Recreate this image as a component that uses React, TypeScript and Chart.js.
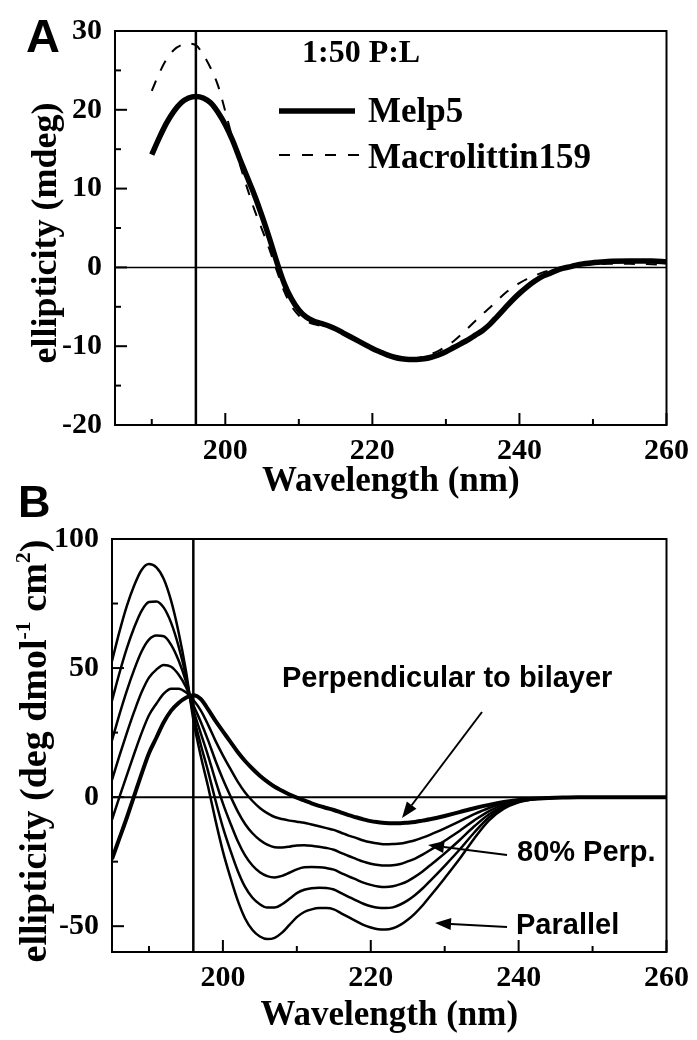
import React, { useEffect, useRef } from "react";
import { Chart, registerables } from "chart.js";
Chart.register(...registerables);

const SERIF = '"Liberation Serif", "Times New Roman", serif';
const SANS = '"Liberation Sans", Arial, sans-serif';

// ---------- Panel A data ----------
const WL_A = [190,191,192,193,194,195,196,197,198,199,200,201,202,203,204,205,206,207,208,209,210,211,212,213,214,215,216,217,218,219,220,221,222,223,224,225,226,227,228,229,230,231,232,233,234,235,236,237,238,239,240,241,242,243,244,245,246,247,248,249,250,252,255,258,260];
const MELP5 = [14.3,16.4,18.3,19.8,20.9,21.5,21.7,21.5,20.9,19.7,18.1,16.1,13.7,11.4,9.1,6.5,3.7,0.7,-2.0,-4.0,-5.4,-6.3,-6.8,-7.1,-7.4,-7.8,-8.3,-8.8,-9.3,-9.8,-10.3,-10.7,-11.1,-11.4,-11.6,-11.7,-11.7,-11.6,-11.4,-11.1,-10.7,-10.2,-9.7,-9.2,-8.6,-8.0,-7.2,-6.2,-5.2,-4.2,-3.3,-2.5,-1.8,-1.2,-0.8,-0.4,-0.1,0.1,0.35,0.5,0.6,0.75,0.8,0.8,0.7];
const MACROLITTIN159 = [22.4,24.6,26.4,27.6,28.2,28.4,28.2,27.0,25.3,23.1,19.8,16.3,13.0,10.0,7.2,4.8,2.3,-0.4,-3.0,-4.9,-6.1,-6.8,-7.2,-7.4,-7.6,-7.9,-8.3,-8.8,-9.3,-9.8,-10.3,-10.7,-11.1,-11.4,-11.6,-11.6,-11.5,-11.3,-11.0,-10.6,-10.0,-9.4,-8.6,-7.7,-6.8,-5.9,-5.1,-4.2,-3.3,-2.6,-2.0,-1.5,-1.1,-0.7,-0.4,-0.15,0.05,0.2,0.3,0.35,0.4,0.45,0.45,0.4,0.3];
const A_X_TICKS = [200, 220, 240, 260];
const A_X_MINOR = [190, 210, 230, 250];
const A_Y_TICKS = [-20, -10, 0, 10, 20, 30];
const A_Y_MINOR = [-15, -5, 5, 15, 25];
const A_NAMES = ["Melp5", "Macrolittin159"];
const A_NOTE = "1:50 P:L";

// ---------- Panel B data ----------
const WL_B = [185,186,187,188,189,190,191,192,193,194,195,196,197,198,199,200,201,202,203,204,205,206,207,208,209,210,211,212,213,214,215,216,217,218,219,220,221,222,223,224,225,226,227,228,229,230,232,234,236,238,240,242,244,246,248,250,255,260];
const PARALLEL = [52.7,64,74,82,88,90.3,89,84.5,76,64,49,30,16,4,-9,-21,-31,-40,-47,-51.5,-54,-55,-54.5,-52.5,-49.5,-46.5,-44.5,-43.5,-43,-43,-43.5,-45,-46.5,-48,-49.5,-50.5,-51.2,-51.3,-50.8,-49.5,-47.5,-45,-42,-38.5,-35,-31.4,-24,-16,-9,-4.5,-2,-0.8,-0.3,-0.1,0,0,0,0];
const PERP_20 = [37.4,48.0,57.6,65.7,72.2,75.6,75.8,73.4,67.5,58.5,46.9,31.9,20.4,10.0,-1.3,-11.7,-20.5,-28.5,-34.8,-39.0,-41.5,-42.8,-42.8,-41.5,-39.4,-37.2,-35.9,-35.3,-35.1,-35.2,-35.8,-37.2,-38.6,-40.0,-41.3,-42.3,-42.9,-43.0,-42.7,-41.6,-40.0,-37.9,-35.4,-32.5,-29.6,-26.6,-20.4,-13.7,-7.8,-4.0,-1.8,-0.76,-0.3,-0.1,0,0,0,0];
const PERP_40 = [22.0,32.0,41.2,49.4,56.4,61.0,62.6,62.3,59.0,53.0,44.8,33.8,24.8,16.0,6.4,-2.4,-10.0,-17.0,-22.6,-26.5,-29.1,-30.6,-31.1,-30.5,-29.3,-28.0,-27.2,-27.1,-27.2,-27.5,-28.1,-29.4,-30.7,-31.9,-33.1,-34.0,-34.6,-34.8,-34.5,-33.7,-32.5,-30.8,-28.8,-26.5,-24.2,-21.8,-16.7,-11.3,-6.6,-3.5,-1.6,-0.72,-0.3,-0.1,0,0,0,0];
const PERP_60 = [6.7,16.0,24.8,33.1,40.6,46.3,49.4,51.2,50.5,47.5,42.7,35.7,29.2,22.0,14.1,6.9,0.5,-5.5,-10.4,-14.0,-16.6,-18.4,-19.4,-19.5,-19.2,-18.7,-18.6,-18.8,-19.2,-19.7,-20.4,-21.6,-22.8,-23.9,-25.0,-25.8,-26.3,-26.5,-26.4,-25.9,-24.9,-23.8,-22.3,-20.6,-18.8,-16.9,-13.1,-9.0,-5.4,-2.9,-1.5,-0.68,-0.3,-0.1,0,0,0,0];
const PERP_80 = [-8.7,0.0,8.4,16.8,24.8,31.7,36.2,40.1,42.0,42.0,40.6,37.6,33.6,28.0,21.8,16.2,11.0,6.0,1.8,-1.5,-4.2,-6.2,-7.7,-8.5,-9.1,-9.5,-9.9,-10.6,-11.3,-12.0,-12.7,-13.8,-14.9,-15.8,-16.8,-17.5,-18.0,-18.3,-18.2,-18.0,-17.4,-16.7,-15.7,-14.6,-13.4,-12.1,-9.4,-6.6,-4.2,-2.4,-1.3,-0.64,-0.3,-0.1,0,0,0,0];
const PERPENDICULAR = [-24,-16,-8,0.5,9,17,23,29,33.5,36.5,38.5,39.5,38,34,29.5,25.5,21.5,17.5,14,11,8.3,6,4,2.5,1,-0.2,-1.3,-2.4,-3.4,-4.2,-5,-6,-7,-7.8,-8.6,-9.3,-9.7,-10,-10.1,-10.1,-9.9,-9.6,-9.1,-8.6,-8,-7.3,-5.8,-4.3,-3,-1.9,-1.1,-0.6,-0.3,-0.1,0,0,0,0];
const B_X_TICKS = [200, 220, 240, 260];
const B_X_MINOR = [190, 210, 230, 250];
const B_Y_TICKS = [-50, 0, 50, 100];
const B_Y_MINOR = [-25, 25, 75];
const B_NOTES = ["Perpendicular to bilayer", "80% Perp.", "Parallel"];

const REF_WL = 196;

function pts(xs: number[], ys: number[]) {
  return xs.map((x, i) => ({ x, y: ys[i] }));
}

function arrow(ctx: CanvasRenderingContext2D, x1: number, y1: number, x2: number, y2: number) {
  const ang = Math.atan2(y2 - y1, x2 - x1);
  const hl = 16, hw = 6;
  const bx = x2 - hl * Math.cos(ang), by = y2 - hl * Math.sin(ang);
  ctx.save();
  ctx.strokeStyle = "#000";
  ctx.fillStyle = "#000";
  ctx.lineWidth = 2;
  ctx.beginPath();
  ctx.moveTo(x1, y1);
  ctx.lineTo(bx, by);
  ctx.stroke();
  ctx.beginPath();
  ctx.moveTo(x2, y2);
  ctx.lineTo(bx + hw * Math.sin(ang), by - hw * Math.cos(ang));
  ctx.lineTo(bx - hw * Math.sin(ang), by + hw * Math.cos(ang));
  ctx.closePath();
  ctx.fill();
  ctx.restore();
}

type Piece = { t: string; sup?: boolean };

function rotatedTitle(ctx: CanvasRenderingContext2D, pieces: Piece[], x: number, y: number, size: number) {
  const main = `bold ${size}px ${SERIF}`;
  const sup = `bold ${Math.round(size * 0.58)}px ${SERIF}`;
  let total = 0;
  const widths = pieces.map((p) => {
    ctx.font = p.sup ? sup : main;
    const w = ctx.measureText(p.t).width;
    total += w;
    return w;
  });
  ctx.save();
  ctx.translate(x, y);
  ctx.rotate(-Math.PI / 2);
  ctx.fillStyle = "#000";
  ctx.textBaseline = "alphabetic";
  ctx.textAlign = "left";
  let cx = -total / 2;
  pieces.forEach((p, i) => {
    ctx.font = p.sup ? sup : main;
    ctx.fillText(p.t, cx, p.sup ? -size * 0.42 : 0);
    cx += widths[i];
  });
  ctx.restore();
}

type PanelCfg = {
  id: string;
  top: number;
  height: number;
  area: { left: number; top: number; right: number; bottom: number };
  yMin: number;
  yMax: number;
  xTicks: number[];
  xMinor: number[];
  yTicks: number[];
  yMinor: number[];
  datasets: any[];
  zeroWidth: number;
  decorate: (ctx: CanvasRenderingContext2D, chart: any) => void;
};

function makePlugin(cfg: PanelCfg) {
  return {
    id: "panel_" + cfg.id,
    beforeDatasetsDraw(chart: any) {
      const ctx = chart.ctx as CanvasRenderingContext2D;
      const xs = chart.scales.x, ys = chart.scales.y;
      const a = chart.chartArea;
      ctx.save();
      ctx.strokeStyle = "#000";
      ctx.lineWidth = cfg.zeroWidth;
      const y0 = ys.getPixelForValue(0);
      ctx.beginPath();
      ctx.moveTo(a.left, y0);
      ctx.lineTo(a.right, y0);
      ctx.stroke();
      ctx.lineWidth = 2.5;
      const xr = xs.getPixelForValue(REF_WL);
      ctx.beginPath();
      ctx.moveTo(xr, a.top);
      ctx.lineTo(xr, a.bottom);
      ctx.stroke();
      ctx.restore();
    },
    afterDraw(chart: any) {
      const ctx = chart.ctx as CanvasRenderingContext2D;
      const xs = chart.scales.x, ys = chart.scales.y;
      const a = chart.chartArea;
      ctx.save();
      ctx.strokeStyle = "#000";
      ctx.lineWidth = 2;
      ctx.strokeRect(a.left, a.top, a.right - a.left, a.bottom - a.top);
      ctx.lineWidth = 2;
      const tick = (isX: boolean, v: number, len: number) => {
        ctx.beginPath();
        if (isX) {
          const p = xs.getPixelForValue(v);
          ctx.moveTo(p, a.bottom);
          ctx.lineTo(p, a.bottom - len);
        } else {
          const p = ys.getPixelForValue(v);
          ctx.moveTo(a.left, p);
          ctx.lineTo(a.left + len, p);
        }
        ctx.stroke();
      };
      cfg.xTicks.forEach((v) => tick(true, v, 12));
      cfg.xMinor.forEach((v) => tick(true, v, 6));
      cfg.yTicks.forEach((v) => tick(false, v, 12));
      cfg.yMinor.forEach((v) => tick(false, v, 6));
      ctx.restore();
      cfg.decorate(ctx, chart);
    },
  };
}

function makeConfig(cfg: PanelCfg): any {
  const tickFont = { family: SERIF, size: 30, weight: "bold" as const };
  return {
    type: "line",
    data: { datasets: cfg.datasets },
    options: {
      responsive: false,
      animation: false,
      devicePixelRatio: 1,
      layout: { padding: { left: 0, top: cfg.area.top, right: 697 - cfg.area.right, bottom: 0 } },
      plugins: { legend: { display: false }, tooltip: { enabled: false } },
      elements: { point: { radius: 0 }, line: { cubicInterpolationMode: "monotone" } },
      scales: {
        x: {
          type: "linear",
          min: 185,
          max: 260,
          grid: { display: false, drawTicks: false },
          border: { display: false },
          afterBuildTicks: (s: any) => {
            s.ticks = cfg.xTicks.map((v) => ({ value: v }));
          },
          afterFit: (s: any) => {
            s.height = cfg.height - cfg.area.bottom;
          },
          ticks: {
            font: tickFont,
            color: "#000",
            padding: 8,
            maxRotation: 0,
            autoSkip: false,
            callback: (v: any) => String(v),
          },
        },
        y: {
          type: "linear",
          min: cfg.yMin,
          max: cfg.yMax,
          grid: { display: false, drawTicks: false },
          border: { display: false },
          afterBuildTicks: (s: any) => {
            s.ticks = cfg.yTicks.map((v) => ({ value: v }));
          },
          afterFit: (s: any) => {
            s.width = cfg.area.left;
          },
          ticks: {
            font: tickFont,
            color: "#000",
            padding: 13,
            autoSkip: false,
            callback: (v: any) => String(v),
          },
        },
      },
    },
    plugins: [makePlugin(cfg)],
  };
}

const panelA: PanelCfg = {
  id: "A",
  top: 0,
  height: 510,
  area: { left: 115, top: 22, right: 671, bottom: 425 },
  yMin: -20,
  yMax: 30,
  xTicks: A_X_TICKS,
  xMinor: A_X_MINOR,
  yTicks: A_Y_TICKS,
  yMinor: A_Y_MINOR,
  zeroWidth: 1.5,
  datasets: [
    { label: A_NAMES[1], data: pts(WL_A, MACROLITTIN159), borderColor: "#000", borderWidth: 2, borderDash: [11, 11], fill: false },
    { label: A_NAMES[0], data: pts(WL_A, MELP5), borderColor: "#000", borderWidth: 5.5, fill: false },
  ],
  decorate: (ctx, chart) => {
    const a = chart.chartArea;
    ctx.save();
    ctx.fillStyle = "#000";
    ctx.strokeStyle = "#000";
    ctx.textBaseline = "alphabetic";
    ctx.textAlign = "left";
    ctx.font = `bold 47px ${SANS}`;
    ctx.fillText("A", 26, 52);
    ctx.font = `bold 32px ${SERIF}`;
    ctx.fillText(A_NOTE, 302, 62);
    // legend
    ctx.lineWidth = 5.5;
    ctx.beginPath();
    ctx.moveTo(279, 111);
    ctx.lineTo(355, 111);
    ctx.stroke();
    ctx.lineWidth = 2;
    ctx.setLineDash([11, 12]);
    ctx.beginPath();
    ctx.moveTo(279, 155);
    ctx.lineTo(360, 155);
    ctx.stroke();
    ctx.setLineDash([]);
    ctx.font = `bold 35px ${SERIF}`;
    ctx.fillText(A_NAMES[0], 368, 122);
    ctx.fillText(A_NAMES[1], 368, 168);
    // axis titles
    ctx.textAlign = "center";
    ctx.fillText("Wavelength (nm)", (a.left + a.right) / 2, 491);
    ctx.restore();
    rotatedTitle(ctx, [{ t: "ellipticity (mdeg)" }], 56, 233, 36);
  },
};

const panelB: PanelCfg = {
  id: "B",
  top: 470,
  height: 570,
  area: { left: 112, top: 69, right: 670, bottom: 482 },
  yMin: -60,
  yMax: 100,
  xTicks: B_X_TICKS,
  xMinor: B_X_MINOR,
  yTicks: B_Y_TICKS,
  yMinor: B_Y_MINOR,
  zeroWidth: 2,
  datasets: [
    { label: "Parallel", data: pts(WL_B, PARALLEL), borderColor: "#000", borderWidth: 2.5, fill: false },
    { label: "20% Perp.", data: pts(WL_B, PERP_20), borderColor: "#000", borderWidth: 2.5, fill: false },
    { label: "40% Perp.", data: pts(WL_B, PERP_40), borderColor: "#000", borderWidth: 2.5, fill: false },
    { label: "60% Perp.", data: pts(WL_B, PERP_60), borderColor: "#000", borderWidth: 2.5, fill: false },
    { label: "80% Perp.", data: pts(WL_B, PERP_80), borderColor: "#000", borderWidth: 2.5, fill: false },
    { label: "Perpendicular", data: pts(WL_B, PERPENDICULAR), borderColor: "#000", borderWidth: 4, fill: false },
  ],
  decorate: (ctx, chart) => {
    const a = chart.chartArea;
    ctx.save();
    ctx.fillStyle = "#000";
    ctx.textBaseline = "alphabetic";
    ctx.textAlign = "left";
    ctx.font = `bold 45px ${SANS}`;
    ctx.fillText("B", 18, 47);
    ctx.font = `bold 29px ${SANS}`;
    ctx.fillText(B_NOTES[0], 282, 217);
    ctx.fillText(B_NOTES[1], 517, 391);
    ctx.fillText(B_NOTES[2], 516, 464);
    ctx.font = `bold 35px ${SERIF}`;
    ctx.textAlign = "center";
    ctx.fillText("Wavelength (nm)", (a.left + a.right) / 2, 555);
    ctx.restore();
    arrow(ctx, 482, 242, 402, 348);
    arrow(ctx, 507, 385, 428, 375);
    arrow(ctx, 507, 457, 435, 453);
    rotatedTitle(
      ctx,
      [{ t: "ellipticity (deg dmol" }, { t: "-1", sup: true }, { t: " cm" }, { t: "2", sup: true }, { t: ")" }],
      46,
      281,
      38
    );
  },
};

function Panel({ cfg }: { cfg: PanelCfg }) {
  const ref = useRef<HTMLCanvasElement | null>(null);
  useEffect(() => {
    if (!ref.current) return;
    const chart = new Chart(ref.current, makeConfig(cfg));
    return () => chart.destroy();
  }, [cfg]);
  return (
    <canvas
      ref={ref}
      width={697}
      height={cfg.height}
      style={{ position: "absolute", left: 0, top: cfg.top, width: 697, height: cfg.height }}
    />
  );
}

export default function App() {
  return (
    <div style={{ position: "absolute", left: 0, top: 0, width: 697, height: 1040, background: "#fff", overflow: "hidden" }}>
      <Panel cfg={panelA} />
      <Panel cfg={panelB} />
    </div>
  );
}
